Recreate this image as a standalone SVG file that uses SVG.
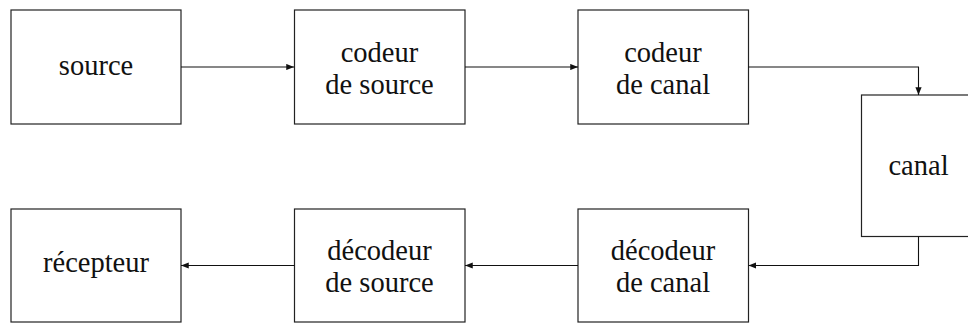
<svg xmlns="http://www.w3.org/2000/svg" width="968" height="324" viewBox="0 0 968 324">
<style>
.box{fill:#fff;stroke:#222;stroke-width:1.2}
.lbl{font-family:"Liberation Serif","DejaVu Serif",serif;font-size:28.5px;fill:#111;text-anchor:middle}
.con{fill:none;stroke:#111;stroke-width:1.1}
</style>
<defs>
<marker id="ah" viewBox="0 0 10 8" refX="10" refY="4" markerWidth="8" markerHeight="6.2" markerUnits="userSpaceOnUse" orient="auto">
<path d="M0,0 L10,4 L0,8 z" fill="#111"/>
</marker>
</defs>
<g id="n-source"><rect class="box" x="11" y="10" width="170" height="114"/><text class="lbl" x="96" y="75">source</text></g>
<g id="n-codeur-source"><rect class="box" x="294.5" y="10" width="170.5" height="114"/><text class="lbl" x="379.5" y="62">codeur</text><text class="lbl" x="379.5" y="94">de source</text></g>
<g id="n-codeur-canal"><rect class="box" x="578" y="10" width="170.5" height="114"/><text class="lbl" x="663" y="62">codeur</text><text class="lbl" x="663" y="94">de canal</text></g>
<g id="n-canal"><rect class="box" x="861.5" y="95" width="114" height="141.5"/><text class="lbl" x="918.5" y="175">canal</text></g>
<g id="n-decodeur-canal"><rect class="box" x="578" y="209" width="170.5" height="113"/><text class="lbl" x="663" y="260">décodeur</text><text class="lbl" x="663" y="292">de canal</text></g>
<g id="n-decodeur-source"><rect class="box" x="294.5" y="209" width="170.5" height="113"/><text class="lbl" x="379.5" y="260">décodeur</text><text class="lbl" x="379.5" y="292">de source</text></g>
<g id="n-recepteur"><rect class="box" x="11" y="209" width="170" height="113"/><text class="lbl" x="96" y="272">récepteur</text></g>
<g id="connectors">
<path class="con" d="M181,67 H294" marker-end="url(#ah)"/>
<path class="con" d="M465,67 H578" marker-end="url(#ah)"/>
<path class="con" d="M748.5,67 H918.5 V95" marker-end="url(#ah)"/>
<path class="con" d="M918.5,236.5 V265.5 H748.5" marker-end="url(#ah)"/>
<path class="con" d="M578,265.5 H465" marker-end="url(#ah)"/>
<path class="con" d="M294.5,265.5 H181" marker-end="url(#ah)"/>
</g>
</svg>
